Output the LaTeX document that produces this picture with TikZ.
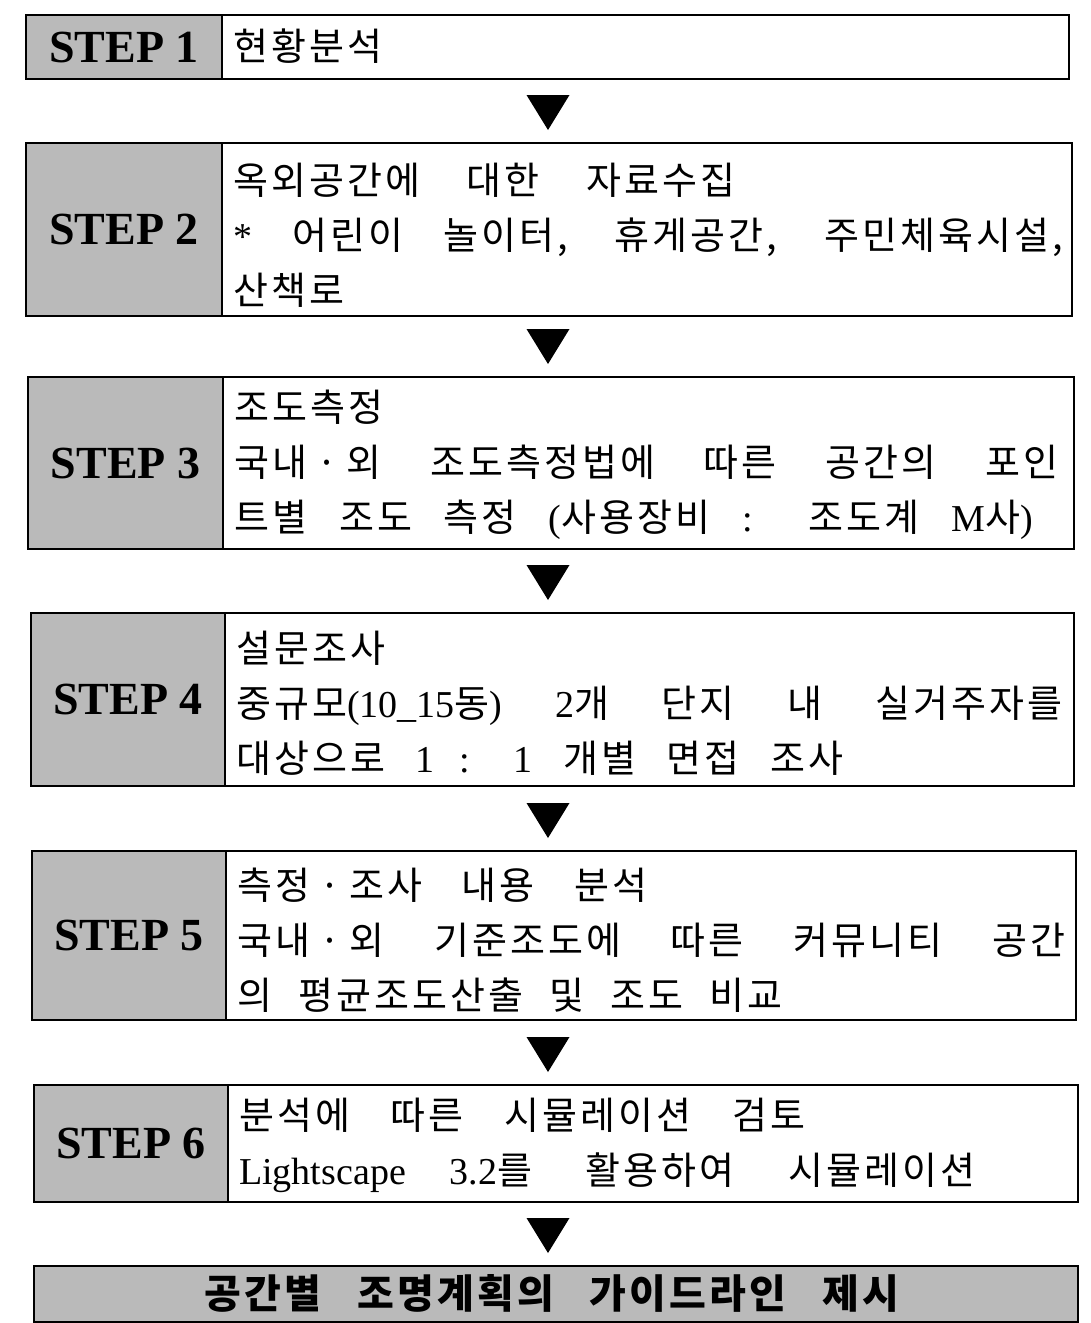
\documentclass[tikz,border=0pt]{standalone}
\usepackage{fontspec}
\setmainfont{Liberation Serif}
\newfontfamily\kr{Noto Sans CJK KR}[LetterSpace=8]
\newcommand\latn[1]{{\rmfamily #1}}
\newcommand\jl[2]{\makebox[#1pt][s]{#2}}
\newcommand\mdot{\kern9pt·\kern9pt}
\tikzset{
  labbox/.style={draw, line width=2.2pt, fill=black!27, inner sep=0pt, anchor=north west,
    font=\fontsize{46}{50}\selectfont\bfseries},
  contbox/.style={draw, line width=2.2pt, fill=white, inner sep=0pt, anchor=north west},
  txt/.style={anchor=west, inner sep=0pt, align=left, font=\kr\fontsize{38}{55}\selectfont},
  downtri/.pic={\fill (-21.5,0) -- (21.5,0) -- (0,35) -- cycle;}
}
\begin{document}
\begin{tikzpicture}[x=1pt,y=-1pt]
\useasboundingbox[fill=white] (0,0) rectangle (1091,1323);

% STEP 1
\node[contbox, minimum width=847pt, minimum height=64pt] (c1) at (221,14) {};
\node[labbox, minimum width=196pt, minimum height=64pt] (l1) at (25,14) {STEP 1};
\node[txt] (t1) at (233,46) {현황분석};

% STEP 2
\node[contbox, minimum width=850pt, minimum height=173pt] (c2) at (221,142) {};
\node[labbox, minimum width=196pt, minimum height=173pt] (l2) at (25,142) {STEP 2};
\node[txt] (t2) at (233,235) {\jl{502}{옥외공간에 대한 자료수집}\\
\jl{830}{\latn{*} 어린이 놀이터, 휴게공간, 주민체육시설,}\\
산책로};

% STEP 3
\node[contbox, minimum width=851pt, minimum height=172pt] (c3) at (222,376) {};
\node[labbox, minimum width=195pt, minimum height=172pt] (l3) at (27,376) {STEP 3};
\node[txt] (t3) at (234,465) {조도측정\\
\jl{824}{국내\mdot 외 조도측정법에 따른 공간의 포인}\\
\jl{799}{트별 조도 측정 \latn{(}사용장비 \latn{:} 조도계 \latn{M}사\latn{)}}};

% STEP 4
\node[contbox, minimum width=849pt, minimum height=173pt] (c4) at (224,612) {};
\node[labbox, minimum width=194pt, minimum height=173pt] (l4) at (30,612) {STEP 4};
\node[txt] (t4) at (236,703) {설문조사\\
\jl{826}{중규모\latn{(10\_15}동\latn{)} \latn{2}개 단지 내 실거주자를}\\
\jl{607}{대상으로 \latn{1 : 1} 개별 면접 조사}};

% STEP 5
\node[contbox, minimum width=850pt, minimum height=169pt] (c5) at (225,850) {};
\node[labbox, minimum width=194pt, minimum height=169pt] (l5) at (31,850) {STEP 5};
\node[txt] (t5) at (237,940) {\jl{410}{측정\mdot 조사 내용 분석}\\
\jl{828}{국내\mdot 외 기준조도에 따른 커뮤니티 공간}\\
\jl{545}{의 평균조도산출 및 조도 비교}};

% STEP 6
\node[contbox, minimum width=850pt, minimum height=117pt] (c6) at (227,1084) {};
\node[labbox, minimum width=194pt, minimum height=117pt] (l6) at (33,1084) {STEP 6};
\node[txt] (t6) at (239,1145) {\jl{566}{분석에 따른 시뮬레이션 검토}\\
\jl{736}{\latn{Lightscape 3.2}를 활용하여 시뮬레이션}};

% Final
\node[labbox, minimum width=1044pt, minimum height=56pt] (fin) at (33,1265) {};
\node[anchor=center, inner sep=0pt, font=\kr\bfseries\fontsize{40}{44}\selectfont] (tf) at (552,1293)
  {\jl{695}{공간별 조명계획의 가이드라인 제시}};

% arrows
\pic at (548,95) {downtri};
\pic at (548,329) {downtri};
\pic at (548,565) {downtri};
\pic at (548,803) {downtri};
\pic at (548,1037) {downtri};
\pic at (548,1218) {downtri};
\end{tikzpicture}
\end{document}
